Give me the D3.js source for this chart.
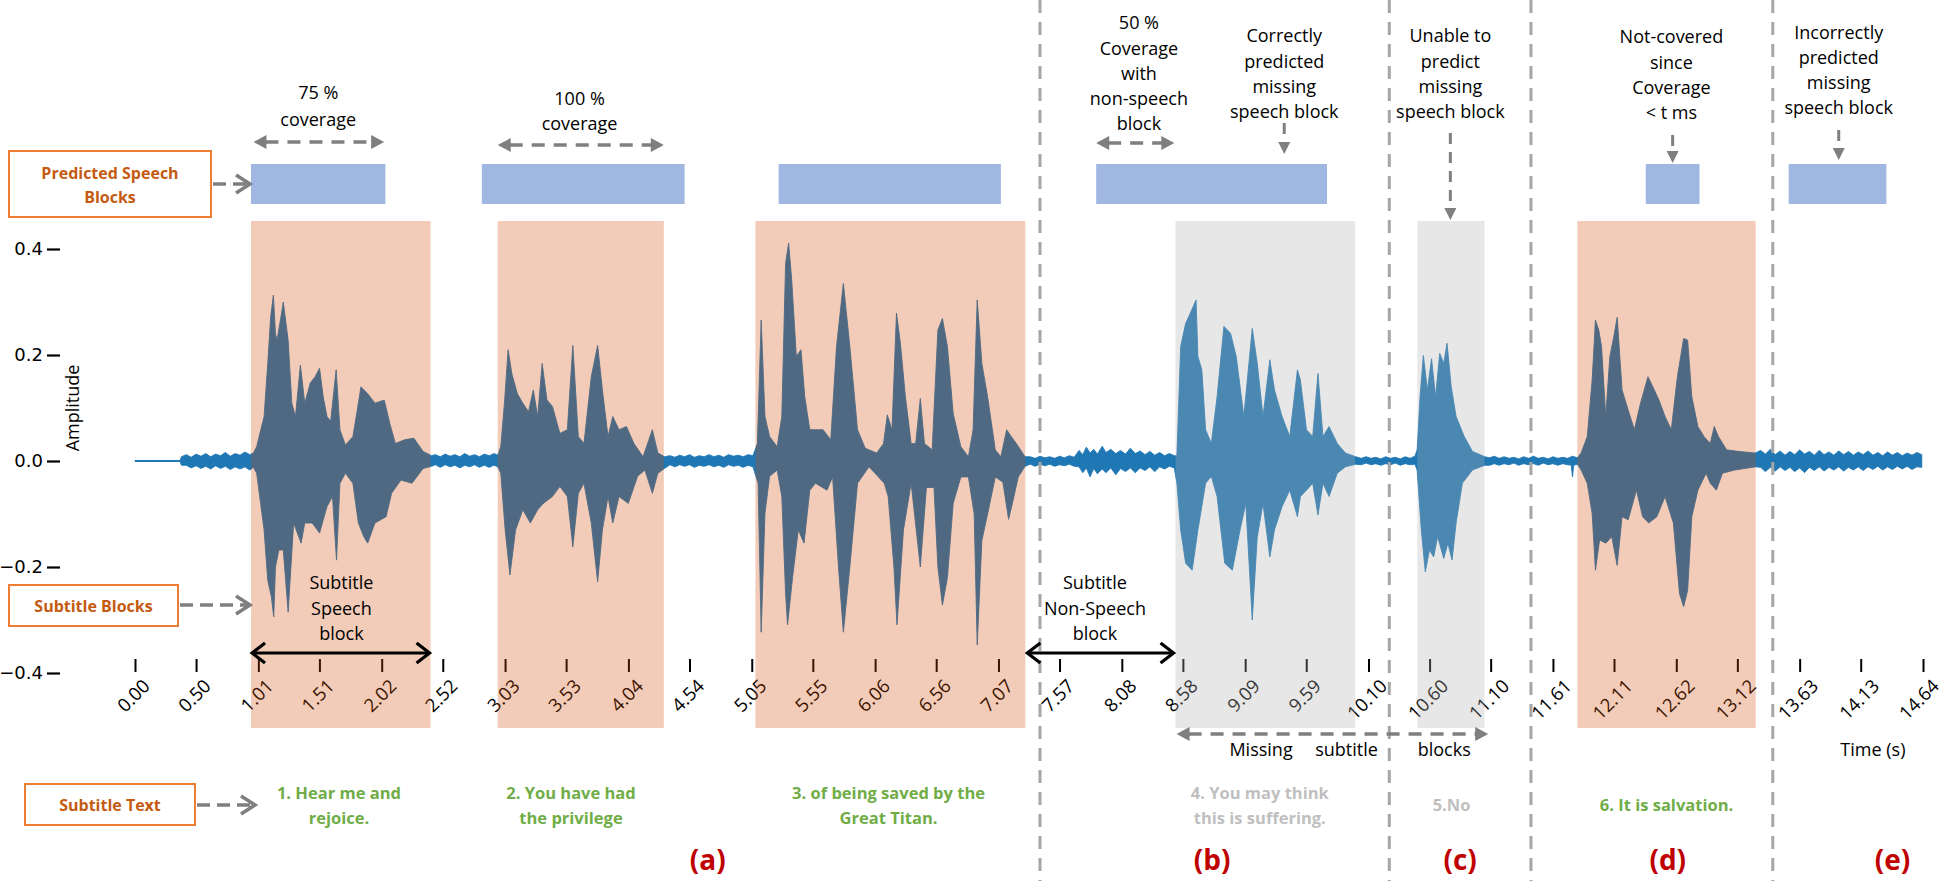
<!DOCTYPE html>
<html><head><meta charset="utf-8">
<script src="https://cdn.jsdelivr.net/npm/d3@7"></script>
<style>
body{margin:0;background:#fff;}
svg{display:block;}
</style>
</head><body>
<svg id="chart" width="1943" height="881"></svg>
<script>
// ---------------- DATA ----------------
const xTickValues = [0.00,0.50,1.01,1.51,2.02,2.52,3.03,3.53,4.04,4.54,5.05,5.55,6.06,6.56,7.07,7.57,8.08,8.58,9.09,9.59,10.10,10.60,11.10,11.61,12.11,12.62,13.12,13.63,14.13,14.64];
const yTickValues = [0.4,0.2,0.0,-0.2,-0.4];
const yTickLabels = ["0.4","0.2","0.0","\u22120.2","\u22120.4"];

// predicted speech blocks [start, end] in seconds
const predictedStart = [0.95,2.84,5.27,7.87,12.37,13.54];
const predictedEnd   = [2.05,4.50,7.09,9.76,12.81,14.34];

// subtitle blocks
const subtitleStart = [0.95,2.97,5.08,8.52,10.50,11.81];
const subtitleEnd   = [2.42,4.33,7.29,9.99,11.05,13.27];
const subtitleKind  = ["speech","speech","speech","missing","missing","speech"];

// subtitle texts (centre time, lines)
const subtitleTextTime  = [1.67,3.57,6.17,9.21,10.78,12.54];
const subtitleTextLines = [["1. Hear me and","rejoice."],["2. You have had","the privilege"],["3. of being saved by the","Great Titan."],["4. You may think","this is suffering."],["5.No"],["6. It is salvation."]];

// case separators (s) and case labels
const separatorTimes = [7.41,10.27,11.43,13.41];
const caseLabels = ["(a)","(b)","(c)","(d)","(e)"];
const caseLabelTimes = [4.69,8.82,10.85,12.55,14.39];

// waveform envelopes [time (s), amplitude]
const upperEnvelope = [
[0.00,0.001],[0.37,0.001],
[0.38,0.008],[0.42,0.012],[0.46,0.007],[0.50,0.013],[0.54,0.009],[0.58,0.014],[0.62,0.008],[0.66,0.013],[0.70,0.010],[0.74,0.016],[0.78,0.009],[0.82,0.014],[0.86,0.011],[0.90,0.017],[0.94,0.012],[0.97,0.015],
[0.996,0.027],[1.057,0.084],[1.087,0.184],[1.111,0.272],[1.133,0.313],[1.150,0.240],[1.163,0.228],[1.193,0.269],[1.214,0.300],[1.254,0.228],[1.284,0.109],[1.314,0.084],[1.354,0.181],[1.390,0.109],[1.435,0.147],[1.475,0.159],[1.511,0.175],[1.541,0.121],[1.572,0.084],[1.602,0.075],[1.647,0.172],[1.678,0.059],[1.723,0.030],[1.784,0.046],[1.820,0.096],[1.850,0.140],[1.905,0.127],[1.965,0.109],[2.041,0.115],[2.086,0.071],[2.132,0.033],[2.207,0.040],[2.283,0.043],[2.359,0.018],[2.428,0.010],
[2.46,0.012],[2.50,0.008],[2.54,0.013],[2.58,0.009],[2.62,0.012],[2.66,0.008],[2.70,0.014],[2.74,0.009],[2.78,0.012],[2.82,0.008],[2.86,0.013],[2.90,0.010],[2.94,0.014],[2.97,0.011],
[2.995,0.027],[3.025,0.109],[3.055,0.210],[3.086,0.164],[3.131,0.127],[3.176,0.109],[3.222,0.093],[3.261,0.134],[3.297,0.084],[3.334,0.184],[3.373,0.115],[3.418,0.103],[3.479,0.052],[3.540,0.059],[3.585,0.218],[3.630,0.046],[3.676,0.033],[3.736,0.159],[3.788,0.218],[3.827,0.134],[3.873,0.046],[3.912,0.084],[3.963,0.059],[4.024,0.065],[4.085,0.033],[4.160,0.008],[4.236,0.059],[4.281,0.015],[4.336,0.008],
[4.38,0.010],[4.42,0.007],[4.46,0.011],[4.50,0.008],[4.54,0.012],[4.58,0.007],[4.62,0.010],[4.66,0.008],[4.70,0.012],[4.74,0.008],[4.78,0.011],[4.82,0.007],[4.86,0.012],[4.90,0.009],[4.94,0.011],[4.98,0.008],[5.02,0.012],[5.06,0.010],
[5.096,0.033],[5.127,0.266],[5.158,0.084],[5.196,0.046],[5.258,0.027],[5.296,0.084],[5.327,0.373],[5.352,0.411],[5.377,0.342],[5.415,0.197],[5.453,0.210],[5.484,0.121],[5.525,0.059],[5.572,0.059],[5.634,0.059],[5.697,0.040],[5.744,0.216],[5.800,0.335],[5.853,0.216],[5.916,0.059],[5.979,0.024],[6.073,0.015],[6.129,0.033],[6.160,0.087],[6.198,0.059],[6.235,0.279],[6.267,0.222],[6.308,0.121],[6.355,0.033],[6.392,0.033],[6.430,0.118],[6.464,0.033],[6.527,0.021],[6.574,0.247],[6.611,0.269],[6.652,0.216],[6.699,0.090],[6.762,0.027],[6.824,0.008],[6.862,0.059],[6.896,0.304],[6.934,0.184],[6.981,0.121],[7.044,0.021],[7.090,0.008],[7.137,0.059],[7.175,0.046],[7.216,0.033],[7.288,0.008],
[7.33,0.008],[7.37,0.005],[7.41,0.009],[7.45,0.006],[7.49,0.008],[7.53,0.005],[7.57,0.009],[7.61,0.006],[7.65,0.010],[7.69,0.007],[7.73,0.020],[7.76,0.012],[7.79,0.026],[7.82,0.015],[7.85,0.022],[7.88,0.013],[7.92,0.028],[7.95,0.016],[7.99,0.022],[8.03,0.014],[8.07,0.020],[8.11,0.013],[8.15,0.024],[8.19,0.014],[8.23,0.019],[8.27,0.012],[8.31,0.018],[8.35,0.011],[8.39,0.016],[8.43,0.010],[8.47,0.014],[8.51,0.010],
[8.531,0.010],[8.562,0.216],[8.603,0.260],[8.641,0.279],[8.688,0.304],[8.703,0.197],[8.735,0.172],[8.766,0.059],[8.813,0.033],[8.860,0.121],[8.916,0.254],[8.970,0.241],[9.017,0.197],[9.079,0.084],[9.148,0.250],[9.189,0.184],[9.236,0.084],[9.292,0.191],[9.330,0.134],[9.392,0.084],[9.455,0.046],[9.518,0.172],[9.542,0.153],[9.592,0.059],[9.643,0.046],[9.686,0.165],[9.727,0.046],[9.777,0.065],[9.844,0.033],[9.911,0.015],[9.995,0.008],
[10.04,0.005],[10.08,0.008],[10.12,0.005],[10.16,0.007],[10.20,0.004],[10.24,0.008],[10.28,0.005],[10.32,0.007],[10.36,0.004],[10.40,0.008],[10.44,0.005],[10.48,0.009],
[10.498,0.021],[10.522,0.121],[10.549,0.199],[10.582,0.134],[10.616,0.193],[10.649,0.121],[10.683,0.203],[10.716,0.184],[10.743,0.222],[10.777,0.140],[10.817,0.084],[10.884,0.046],[10.951,0.018],[11.052,0.008],
[11.09,0.006],[11.13,0.009],[11.17,0.005],[11.21,0.008],[11.25,0.005],[11.29,0.007],[11.33,0.004],[11.37,0.008],[11.41,0.005],[11.45,0.009],[11.49,0.005],[11.53,0.007],[11.57,0.004],[11.61,0.008],[11.65,0.005],[11.69,0.007],[11.73,0.005],[11.77,0.009],[11.81,0.006],
[11.841,0.015],[11.891,0.046],[11.931,0.153],[11.958,0.266],[11.985,0.247],[12.008,0.216],[12.042,0.084],[12.076,0.197],[12.109,0.235],[12.136,0.271],[12.176,0.134],[12.226,0.096],[12.277,0.059],[12.327,0.109],[12.388,0.159],[12.428,0.140],[12.478,0.115],[12.528,0.084],[12.579,0.059],[12.629,0.159],[12.680,0.231],[12.713,0.228],[12.747,0.121],[12.797,0.065],[12.847,0.046],[12.898,0.033],[12.931,0.065],[12.965,0.046],[13.032,0.021],[13.133,0.018],[13.267,0.015],
[13.31,0.020],[13.35,0.013],[13.39,0.022],[13.43,0.012],[13.47,0.019],[13.51,0.011],[13.55,0.018],[13.59,0.012],[13.63,0.021],[13.67,0.013],[13.71,0.018],[13.75,0.011],[13.79,0.020],[13.83,0.012],[13.87,0.017],[13.91,0.011],[13.95,0.019],[13.99,0.012],[14.03,0.018],[14.07,0.011],[14.11,0.017],[14.15,0.012],[14.19,0.019],[14.23,0.011],[14.27,0.016],[14.31,0.010],[14.35,0.017],[14.39,0.011],[14.43,0.016],[14.47,0.010],[14.51,0.015],[14.55,0.011],[14.59,0.016],[14.63,0.012]
];
const lowerEnvelope = [
[0.00,-0.001],[0.37,-0.001],
[0.38,-0.008],[0.42,-0.008],[0.46,-0.013],[0.50,-0.009],[0.54,-0.014],[0.58,-0.010],[0.62,-0.015],[0.66,-0.009],[0.70,-0.014],[0.74,-0.010],[0.78,-0.016],[0.82,-0.011],[0.86,-0.015],[0.90,-0.011],[0.94,-0.017],[0.97,-0.012],
[0.996,-0.023],[1.057,-0.130],[1.087,-0.225],[1.117,-0.257],[1.136,-0.294],[1.150,-0.200],[1.178,-0.168],[1.214,-0.168],[1.254,-0.285],[1.299,-0.117],[1.360,-0.155],[1.390,-0.117],[1.451,-0.117],[1.511,-0.136],[1.572,-0.086],[1.617,-0.067],[1.650,-0.187],[1.678,-0.042],[1.723,-0.023],[1.784,-0.042],[1.829,-0.117],[1.874,-0.143],[1.905,-0.155],[1.965,-0.117],[2.056,-0.105],[2.101,-0.061],[2.177,-0.036],[2.268,-0.042],[2.359,-0.014],[2.428,-0.010],
[2.46,-0.007],[2.50,-0.012],[2.54,-0.007],[2.58,-0.011],[2.62,-0.008],[2.66,-0.013],[2.70,-0.008],[2.74,-0.011],[2.78,-0.007],[2.82,-0.012],[2.86,-0.008],[2.90,-0.012],[2.94,-0.008],[2.97,-0.011],
[2.995,-0.023],[3.031,-0.130],[3.070,-0.215],[3.116,-0.130],[3.176,-0.092],[3.237,-0.117],[3.297,-0.092],[3.343,-0.080],[3.418,-0.067],[3.479,-0.048],[3.540,-0.067],[3.585,-0.162],[3.630,-0.061],[3.676,-0.042],[3.736,-0.117],[3.788,-0.228],[3.827,-0.130],[3.873,-0.067],[3.912,-0.117],[3.963,-0.067],[4.039,-0.080],[4.115,-0.029],[4.175,-0.017],[4.236,-0.061],[4.281,-0.023],[4.336,-0.014],
[4.38,-0.007],[4.42,-0.011],[4.46,-0.007],[4.50,-0.010],[4.54,-0.007],[4.58,-0.012],[4.62,-0.008],[4.66,-0.010],[4.70,-0.007],[4.74,-0.011],[4.78,-0.008],[4.82,-0.012],[4.86,-0.007],[4.90,-0.010],[4.94,-0.008],[4.98,-0.012],[5.02,-0.008],[5.06,-0.011],
[5.102,-0.042],[5.127,-0.323],[5.158,-0.099],[5.196,-0.029],[5.258,-0.017],[5.296,-0.067],[5.327,-0.250],[5.343,-0.309],[5.384,-0.220],[5.431,-0.130],[5.478,-0.155],[5.525,-0.055],[5.572,-0.042],[5.666,-0.055],[5.712,-0.030],[5.760,-0.200],[5.800,-0.323],[5.853,-0.200],[5.916,-0.042],[6.010,-0.011],[6.135,-0.042],[6.167,-0.067],[6.214,-0.200],[6.239,-0.309],[6.292,-0.130],[6.355,-0.042],[6.430,-0.200],[6.480,-0.050],[6.542,-0.050],[6.574,-0.200],[6.611,-0.272],[6.652,-0.220],[6.699,-0.080],[6.762,-0.030],[6.824,-0.030],[6.871,-0.100],[6.896,-0.347],[6.934,-0.150],[6.981,-0.100],[7.044,-0.030],[7.106,-0.040],[7.153,-0.110],[7.184,-0.080],[7.232,-0.030],[7.288,-0.010],
[7.33,-0.006],[7.37,-0.010],[7.41,-0.006],[7.45,-0.009],[7.49,-0.006],[7.53,-0.010],[7.57,-0.007],[7.61,-0.009],[7.65,-0.006],[7.69,-0.010],[7.73,-0.011],[7.76,-0.022],[7.79,-0.013],[7.82,-0.030],[7.85,-0.014],[7.88,-0.024],[7.92,-0.015],[7.95,-0.022],[7.99,-0.013],[8.03,-0.026],[8.07,-0.014],[8.11,-0.020],[8.15,-0.013],[8.19,-0.022],[8.23,-0.013],[8.27,-0.018],[8.31,-0.011],[8.35,-0.020],[8.39,-0.011],[8.43,-0.015],[8.47,-0.010],[8.51,-0.013],
[8.531,-0.042],[8.562,-0.130],[8.603,-0.193],[8.656,-0.206],[8.703,-0.130],[8.766,-0.042],[8.813,-0.029],[8.860,-0.067],[8.923,-0.193],[8.985,-0.206],[9.048,-0.130],[9.095,-0.080],[9.148,-0.300],[9.189,-0.143],[9.236,-0.080],[9.292,-0.181],[9.330,-0.130],[9.392,-0.086],[9.455,-0.055],[9.518,-0.105],[9.542,-0.067],[9.592,-0.055],[9.643,-0.042],[9.686,-0.102],[9.727,-0.042],[9.777,-0.067],[9.844,-0.023],[9.911,-0.011],[9.995,-0.006],
[10.04,-0.007],[10.08,-0.004],[10.12,-0.007],[10.16,-0.005],[10.20,-0.008],[10.24,-0.005],[10.28,-0.007],[10.32,-0.004],[10.36,-0.008],[10.40,-0.005],[10.44,-0.007],[10.48,-0.006],
[10.498,-0.017],[10.532,-0.130],[10.565,-0.209],[10.599,-0.168],[10.633,-0.181],[10.666,-0.143],[10.716,-0.184],[10.750,-0.155],[10.784,-0.187],[10.817,-0.117],[10.868,-0.042],[10.951,-0.017],[11.052,-0.008],
[11.09,-0.008],[11.13,-0.005],[11.17,-0.008],[11.21,-0.005],[11.25,-0.007],[11.29,-0.004],[11.33,-0.008],[11.37,-0.005],[11.41,-0.007],[11.45,-0.005],[11.49,-0.008],[11.53,-0.004],[11.57,-0.007],[11.61,-0.005],[11.65,-0.008],[11.69,-0.005],[11.73,-0.007],[11.76,-0.008],[11.77,-0.030],[11.78,-0.008],[11.81,-0.006],
[11.841,-0.017],[11.891,-0.042],[11.931,-0.099],[11.958,-0.206],[11.992,-0.149],[12.042,-0.155],[12.092,-0.143],[12.136,-0.197],[12.176,-0.105],[12.226,-0.111],[12.294,-0.055],[12.344,-0.105],[12.394,-0.117],[12.461,-0.105],[12.528,-0.067],[12.596,-0.117],[12.646,-0.250],[12.680,-0.275],[12.713,-0.244],[12.747,-0.105],[12.797,-0.055],[12.864,-0.023],[12.898,-0.042],[12.948,-0.055],[12.998,-0.023],[13.099,-0.017],[13.267,-0.011],
[13.31,-0.012],[13.35,-0.020],[13.39,-0.012],[13.43,-0.019],[13.47,-0.011],[13.51,-0.018],[13.55,-0.012],[13.59,-0.020],[13.63,-0.013],[13.67,-0.022],[13.71,-0.012],[13.75,-0.018],[13.79,-0.011],[13.83,-0.019],[13.87,-0.012],[13.91,-0.017],[13.95,-0.011],[13.99,-0.019],[14.03,-0.012],[14.07,-0.017],[14.11,-0.011],[14.15,-0.018],[14.19,-0.011],[14.23,-0.016],[14.27,-0.010],[14.31,-0.017],[14.35,-0.011],[14.39,-0.016],[14.43,-0.010],[14.47,-0.015],[14.51,-0.010],[14.55,-0.016],[14.59,-0.011],[14.63,-0.012]
];

// ---------------- DRAWING ----------------
const svg = d3.select("#chart");
const FONT = "'Open Sans', 'Noto Sans', sans-serif";
const TICKFONT = "'DejaVu Sans', sans-serif";
const x = d3.scaleLinear().domain([0, 14.64]).range([135, 1923]);
const y = d3.scaleLinear().domain([-0.4, 0.4]).range([673, 249]);

const BLOCK_TOP = 221, BLOCK_BOTTOM = 728;
const GRAY_ARROW = "#7f7f7f";
const W = 1943;

// predicted speech blocks
svg.append("g").selectAll("rect").data(d3.range(predictedStart.length)).join("rect")
  .attr("x", i => x(predictedStart[i])).attr("width", i => x(predictedEnd[i]) - x(predictedStart[i]))
  .attr("y", 164).attr("height", 40).attr("fill", "#a0b7e1");

// y axis (no spine)
const yAxis = d3.axisLeft(y).tickValues(yTickValues).tickSize(13).tickPadding(4)
  .tickFormat((d, i) => yTickLabels[i]);
const gy = svg.append("g").attr("transform", "translate(60,0)").call(yAxis);
gy.select(".domain").remove();
gy.selectAll(".tick line").attr("stroke", "#000").attr("stroke-width", 2.2);
gy.selectAll(".tick text").attr("font-family", TICKFONT).attr("font-size", 18).attr("fill", "#000");

// x axis ticks (no spine), rotated labels
const xAxis = d3.axisBottom(x).tickValues(xTickValues).tickSize(13).tickFormat(d3.format(".2f"));
const gx = svg.append("g").attr("transform", "translate(0,659)").call(xAxis);
gx.select(".domain").remove();
gx.selectAll(".tick line").attr("stroke", "#000").attr("stroke-width", 2);
gx.selectAll(".tick text").attr("font-family", FONT).attr("font-size", 18.5).attr("fill", "#000")
  .attr("text-anchor", "middle").attr("dy", "0.35em")
  .each(function(d) {
    const len = this.getComputedTextLength();
    const half = (len * 0.7071 + 13.5 * 0.7071) / 2;
    // keep the rotated label inside the picture's right edge
    const dx = Math.min(-2, (W - 3) - (x(d) + half));
    d3.select(this).attr("y", null).attr("transform", `translate(${dx},${19 + half}) rotate(-45)`);
  });

// amplitude label
svg.append("text").attr("transform", "translate(79,408) rotate(-90)").attr("text-anchor", "middle")
  .attr("font-family", FONT).attr("font-size", 18).attr("fill", "#000").text("Amplitude");

// waveform
const upperArea = d3.area().x(d => x(d[0])).y0(y(0)).y1(d => y(d[1]));
const lowerArea = d3.area().x(d => x(d[0])).y0(y(0)).y1(d => y(d[1]));
const wave = svg.append("g");
wave.append("path").datum(upperEnvelope).attr("d", upperArea).attr("fill", "#1f77b4").attr("stroke", "#1f77b4").attr("stroke-width", 0.9).attr("stroke-linejoin", "bevel");
wave.append("path").datum(lowerEnvelope).attr("d", lowerArea).attr("fill", "#1f77b4").attr("stroke", "#1f77b4").attr("stroke-width", 0.9).attr("stroke-linejoin", "bevel");

// subtitle block overlays (semi-transparent, over waveform and ticks)
svg.append("g").selectAll("rect").data(d3.range(subtitleStart.length)).join("rect")
  .attr("x", i => x(subtitleStart[i])).attr("width", i => x(subtitleEnd[i]) - x(subtitleStart[i]))
  .attr("y", BLOCK_TOP).attr("height", BLOCK_BOTTOM - BLOCK_TOP)
  .attr("fill", i => subtitleKind[i] === "speech" ? "rgb(208,72,0)" : "rgb(174,174,174)")
  .attr("fill-opacity", i => subtitleKind[i] === "speech" ? 0.28 : 0.3);

// separators
svg.append("g").selectAll("line").data(separatorTimes).join("line")
  .attr("x1", d => x(d)).attr("x2", d => x(d)).attr("y1", 0).attr("y2", 881)
  .attr("stroke", "#a6a6a6").attr("stroke-width", 3).attr("stroke-dasharray", "13,9");

// ---------- helpers ----------
function lines(cx, ys, texts, opt = {}) {
  const t = svg.append("text").attr("text-anchor", "middle").attr("font-family", FONT)
    .attr("font-size", opt.size || 18).attr("font-weight", opt.weight || "normal").attr("fill", opt.color || "#000");
  texts.forEach((s, i) => t.append("tspan").attr("x", cx).attr("y", ys[i]).attr("dy", "0.35em").text(s));
  return t;
}
function triHead(tipX, tipY, dir, len = 13, half = 7, color = GRAY_ARROW) {
  let p;
  if (dir === "right") p = [[tipX, tipY], [tipX - len, tipY - half], [tipX - len, tipY + half]];
  else if (dir === "left") p = [[tipX, tipY], [tipX + len, tipY - half], [tipX + len, tipY + half]];
  else p = [[tipX, tipY], [tipX - half, tipY - len], [tipX + half, tipY - len]];
  svg.append("path").attr("d", d3.line()(p) + "Z").attr("fill", color);
}
function hDashedDouble(x1, x2, yy) {
  svg.append("line").attr("x1", x1 + 12).attr("x2", x2 - 12).attr("y1", yy).attr("y2", yy)
    .attr("stroke", GRAY_ARROW).attr("stroke-width", 3.5).attr("stroke-dasharray", "13,9");
  triHead(x1, yy, "left"); triHead(x2, yy, "right");
}
function vDashedDown(xx, y1, y2) {
  svg.append("line").attr("x1", xx).attr("x2", xx).attr("y1", y1).attr("y2", y2 - 12)
    .attr("stroke", GRAY_ARROW).attr("stroke-width", 3).attr("stroke-dasharray", "11,8");
  triHead(xx, y2, "down", 12, 6);
}
function chevronArrow(x1, x2, yy) {
  svg.append("line").attr("x1", x1).attr("x2", x2 - 3).attr("y1", yy).attr("y2", yy)
    .attr("stroke", GRAY_ARROW).attr("stroke-width", 3.5).attr("stroke-dasharray", "13,7");
  svg.append("path").attr("d", `M${x2 - 14},${yy - 9}L${x2},${yy}L${x2 - 14},${yy + 9}`)
    .attr("fill", "none").attr("stroke", GRAY_ARROW).attr("stroke-width", 3.5);
}
function blackDouble(x1, x2, yy) {
  svg.append("line").attr("x1", x1 + 2).attr("x2", x2 - 2).attr("y1", yy).attr("y2", yy)
    .attr("stroke", "#000").attr("stroke-width", 3);
  svg.append("path").attr("d", `M${x1 + 14},${yy - 10}L${x1 + 1},${yy}L${x1 + 14},${yy + 10}`)
    .attr("fill", "none").attr("stroke", "#000").attr("stroke-width", 3.2);
  svg.append("path").attr("d", `M${x2 - 14},${yy - 10}L${x2 - 1},${yy}L${x2 - 14},${yy + 10}`)
    .attr("fill", "none").attr("stroke", "#000").attr("stroke-width", 3.2);
}
function legendBox(x0, y0, w, h, texts, ys) {
  svg.append("rect").attr("x", x0).attr("y", y0).attr("width", w).attr("height", h)
    .attr("fill", "#fff").attr("stroke", "#ed7d31").attr("stroke-width", 2);
  lines(x0 + w / 2, ys, texts, {size: 16, weight: "bold", color: "#c55a11"});
}

// ---------- legend boxes ----------
legendBox(9, 151, 202, 66, ["Predicted Speech", "Blocks"], [173, 197]);
chevronArrow(213, x(predictedStart[0]) - 1, 184);
legendBox(9, 585, 169, 41, ["Subtitle Blocks"], [606]);
chevronArrow(180, x(subtitleStart[0]) - 1, 605);
legendBox(25, 784, 170, 41, ["Subtitle Text"], [805]);
chevronArrow(197, 255, 805);

// ---------- top annotations ----------
lines(x(1.50), [93, 120], ["75 %", "coverage"]);
hDashedDouble(x(0.97), x(2.04), 142);
lines(x(3.64), [99, 124], ["100 %", "coverage"]);
hDashedDouble(x(2.97), x(4.33), 145);
lines(x(8.22), [23, 49, 74, 99, 124], ["50 %", "Coverage", "with", "non-speech", "block"]);
hDashedDouble(x(7.87), x(8.51), 143);
lines(x(9.41), [36, 62, 87, 112], ["Correctly", "predicted", "missing", "speech block"]);
vDashedDown(x(9.41), 123, 154);
lines(x(10.77), [36, 62, 87, 112], ["Unable to", "predict", "missing", "speech block"]);
vDashedDown(x(10.77), 133, 220);
lines(x(12.58), [37, 63, 88, 113], ["Not-covered", "since", "Coverage", "< t ms"]);
vDashedDown(x(12.59), 135, 163);
lines(x(13.95), [33, 58, 83, 108], ["Incorrectly", "predicted", "missing", "speech block"]);
vDashedDown(x(13.95), 130, 160);

// ---------- block annotations ----------
lines(x(1.69), [583, 609, 634], ["Subtitle", "Speech", "block"]);
blackDouble(x(subtitleStart[0]), x(subtitleEnd[0]), 653);
lines(x(7.86), [583, 609, 634], ["Subtitle", "Non-Speech", "block"]);
blackDouble(x(subtitleEnd[2]) + 1, x(subtitleStart[3]) - 1, 653);

// missing subtitle blocks
hDashedDouble(x(subtitleStart[3]) + 1, x(11.08), 734);
lines(x(9.22), [750], ["Missing"]);
lines(x(9.92), [750], ["subtitle"]);
lines(x(10.72), [750], ["blocks"]);

// time label
lines(x(14.23), [750], ["Time (s)"]);

// ---------- subtitle texts ----------
subtitleTextTime.forEach((t, i) => {
  const ls = subtitleTextLines[i];
  const ys = ls.length === 2 ? [793, 818] : [805];
  lines(x(t), ys, ls, {size: 16.5, weight: "bold", color: subtitleKind[i] === "speech" ? "#70ad47" : "#bfbfbf"});
});

// ---------- case labels ----------
caseLabels.forEach((s, i) => {
  lines(x(caseLabelTimes[i]), [860], [s], {size: 28, weight: "bold", color: "#c00000"});
});
</script>
</body></html>
